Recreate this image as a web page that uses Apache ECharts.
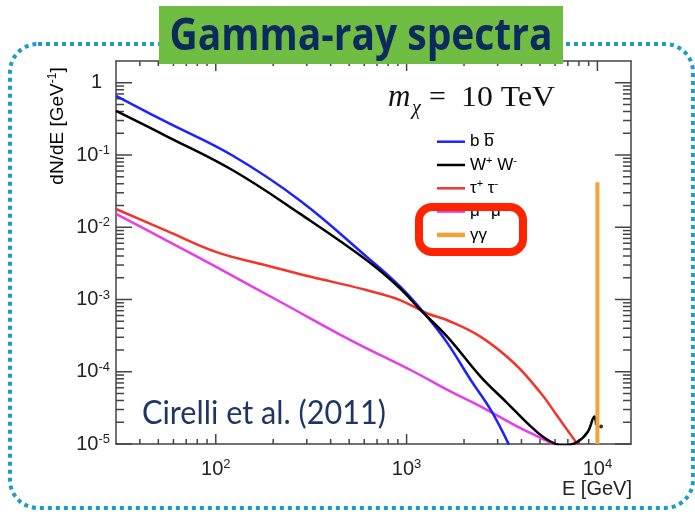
<!DOCTYPE html>
<html>
<head>
<meta charset="utf-8">
<script src="https://cdn.jsdelivr.net/npm/echarts@6/dist/echarts.min.js"></script>
<style>
  html, body { margin: 0; padding: 0; background: #fff; }
  #chart { width: 695px; height: 512px; }
</style>
</head>
<body>
<div id="chart"></div>
<script>
// Photon spectra dN/dE for a 10 TeV dark-matter particle, per annihilation channel.
const xTicks = [100, 1000, 10000];
const yTicks = [1e-5, 1e-4, 1e-3, 1e-2, 1e-1, 1];

const bbE = [30, 55, 123, 277, 621, 929, 1284, 1637, 2169, 2761, 3436];
const bbY = [0.656, 0.287, 0.0975, 0.0233, 0.00386, 0.00149, 5.74e-4, 2.49e-4, 7.69e-5, 2.96e-5, 9.8e-6];

const wwE = [30, 55, 124, 277, 621, 929, 1185, 1637, 2449, 3381, 4486, 5488, 6712, 7893, 8907, 9648, 9845];
const wwY = [0.407, 0.183, 0.0605, 0.0153, 0.00347, 1.41e-3, 7.1e-4, 3.04e-4, 8.5e-5, 3.66e-5, 1.74e-5, 1.14e-5, 9.5e-6, 1.08e-5, 1.48e-5, 2.4e-5, 1.84e-5];
const wwTailE = [10450];
const wwTailY = [1.75e-5];

const ttE = [30, 55, 101, 185, 277, 415, 621, 929, 1284, 1637, 2449, 3664, 5058, 6194, 7893];
const ttY = [0.0179, 0.009, 0.00452, 0.00296, 0.00223, 0.00174, 0.00134, 9.75e-4, 6.4e-4, 5.16e-4, 3.04e-4, 1.31e-4, 5.04e-5, 2.4e-5, 9.8e-6];

const mmE = [30, 55, 101, 226, 508, 1092, 1637, 2449, 3664, 4486, 5940];
const mmY = [0.0153, 0.0066, 0.0028, 8.8e-4, 2.74e-4, 1.0e-4, 5.6e-5, 3.29e-5, 1.84e-5, 1.41e-5, 9.8e-6];

const ggE = [10000, 10000];
const ggY = [1e-5, 0.0418];

const channelNames = ['b b\u0305', 'W⁺ W⁻', 'τ⁺ τ⁻', 'μ⁺ μ⁻', 'γγ'];
const channelColors = ['#1c22ff', '#000000', '#f2352a', '#e43fe6', '#f3a23c'];

const X_MIN = 30, X_MAX = 15000, Y_MIN = 1e-5, Y_MAX = 2;

// minor tick positions (2..9 times each power of ten) inside the axis range
function minorTicks(lo, hi) {
  const out = [];
  for (let d = Math.floor(Math.log10(lo)); d <= Math.ceil(Math.log10(hi)); d++) {
    for (let k = 2; k <= 9; k++) {
      const v = k * Math.pow(10, d);
      if (v > lo * 1.0001 && v < hi * 0.9999) out.push(v);
    }
  }
  return out;
}
const xMinor = minorTicks(X_MIN, X_MAX);
const yMinor = minorTicks(Y_MIN, Y_MAX);

const pairs = (xs, ys) => xs.map((x, i) => [x, ys[i]]);

const LABEL_FONT = '"Liberation Sans", Arial, Helvetica, sans-serif';
const SERIF = '"Liberation Serif", "Times New Roman", serif';
const INK = '#222';
const FRAME = '#444';

function powLabel(v) {
  const e = Math.round(Math.log10(v));
  return e === 0 ? '{one|1}' : '{b|10}{s|' + e + '}';
}
const powRich = {
  b: { fontSize: 20, lineHeight: 22, fontFamily: LABEL_FONT, color: INK },
  s: { fontSize: 13, lineHeight: 13, verticalAlign: 'top', fontFamily: LABEL_FONT, color: INK },
  one: { fontSize: 20, lineHeight: 22, fontFamily: LABEL_FONT, color: INK, padding: [0, 8, 0, 0] }
};

function frameAxis(position, isX, opts) {
  return {
    type: 'log',
    min: isX ? X_MIN : Y_MIN,
    max: isX ? X_MAX : Y_MAX,
    position: position,
    axisLine: { show: true, lineStyle: { color: FRAME, width: 1.5 } },
    axisTick: { show: false },
    axisLabel: opts.labels
      ? { show: true, customValues: opts.ticks, formatter: powLabel, rich: powRich, margin: opts.margin }
      : { show: false },
    splitLine: { show: false }
  };
}

// tick marks on all four sides of the frame, placed through the axis scales
// kind: 0 = x major, 1 = x minor, 2 = y major, 3 = y minor
const tickData = [].concat(
  xTicks.map(v => [v, Y_MIN, 0]),
  xMinor.map(v => [v, Y_MIN, 1]),
  yTicks.map(v => [X_MIN, v, 2]),
  yMinor.map(v => [X_MIN, v, 3])
);
const TICK_LEN = [10, 5, 16, 8];
function renderTick(params, api) {
  const kind = api.value(2);
  const len = TICK_LEN[kind];
  const st = { stroke: FRAME, lineWidth: 1.5 };
  if (kind < 2) {
    const v = api.value(0);
    const p0 = api.coord([v, Y_MIN]);
    const p1 = api.coord([v, Y_MAX]);
    return { type: 'group', children: [
      { type: 'line', shape: { x1: p0[0], y1: p0[1], x2: p0[0], y2: p0[1] - len }, style: st },
      { type: 'line', shape: { x1: p1[0], y1: p1[1], x2: p1[0], y2: p1[1] + len }, style: st }
    ] };
  }
  const v = api.value(1);
  const p0 = api.coord([X_MIN, v]);
  const p1 = api.coord([X_MAX, v]);
  return { type: 'group', children: [
    { type: 'line', shape: { x1: p0[0], y1: p0[1], x2: p0[0] + len, y2: p0[1] }, style: st },
    { type: 'line', shape: { x1: p1[0], y1: p1[1], x2: p1[0] - len, y2: p1[1] }, style: st }
  ] };
}

function curve(name, xs, ys, color, width) {
  return {
    name: name, type: 'line', xAxisIndex: 0, yAxisIndex: 0,
    data: pairs(xs, ys), showSymbol: false, smooth: 0.4, clip: true,
    lineStyle: { color: color, width: width }, itemStyle: { color: color },
    animation: false, z: 3
  };
}

// horizontal squeeze so a text run spans a given width
function fitScale(text, font, target) {
  const ctx = document.createElement('canvas').getContext('2d');
  ctx.font = font;
  return target / ctx.measureText(text).width;
}

const titleText = 'Gamma-ray spectra';
const titleFont = 'bold 44px "Open Sans"';
const citeText = 'Cirelli et al. (2011)';
const citeFont = '32px Lato';
const massFont = '30px ' + SERIF;

// legend entries drawn inside the frame
const legendTop = 141.7, legendStep = 23.3;
const legendRich = {
  t: { fontSize: 17, lineHeight: 20, fontFamily: LABEL_FONT, color: INK },
  s: { fontSize: 11, lineHeight: 11, verticalAlign: 'top', fontFamily: LABEL_FONT, color: INK }
};
const legendLabels = [
  '{t|b b\u0305}',
  '{t|W}{s|+}{t| W}{s|-}',
  '{t|τ}{s|+}{t| τ}{s|-}',
  '{t|μ}{s|+}{t| μ}{s|-}',
  '{t|γγ}'
];
const legendGraphics = [];
channelNames.forEach((n, i) => {
  const y = legendTop + i * legendStep;
  legendGraphics.push({
    type: 'line', z: 50,
    shape: { x1: 437, y1: y, x2: 465, y2: y },
    style: { stroke: channelColors[i], lineWidth: i === 4 ? 4.5 : 2.5 }
  });
  legendGraphics.push({
    type: 'text', z: 50, x: 470, y: y,
    style: { text: legendLabels[i], rich: legendRich, align: 'left', verticalAlign: 'middle' }
  });
});

const chart = echarts.init(document.getElementById('chart'));
chart.setOption({
  animation: false,
  grid: { left: 116, right: 64, top: 61, bottom: 68 },
  xAxis: [
    frameAxis('bottom', true, { ticks: xTicks, labels: true, margin: 14 }),
    frameAxis('top', true, {})
  ],
  yAxis: [
    frameAxis('left', false, { ticks: yTicks, labels: true, margin: 6 }),
    frameAxis('right', false, {})
  ],
  series: [
    {
      name: 'frame ticks', type: 'custom', xAxisIndex: 0, yAxisIndex: 0,
      data: tickData, renderItem: renderTick, clip: false, silent: true,
      animation: false, z: 2
    },
    curve(channelNames[3], mmE, mmY, channelColors[3], 2.5),
    curve(channelNames[2], ttE, ttY, channelColors[2], 2.5),
    curve(channelNames[0], bbE, bbY, channelColors[0], 2.5),
    curve(channelNames[1], wwE, wwY, channelColors[1], 2.5),
    {
      name: channelNames[1] + ' tail', type: 'scatter', data: pairs(wwTailE, wwTailY),
      symbolSize: 4, itemStyle: { color: '#000' }, z: 3, animation: false
    },
    Object.assign(curve(channelNames[4], ggE, ggY, channelColors[4], 4), { smooth: false, z: 4 })
  ],
  graphic: [
    // dotted rounded frame around the whole panel
    {
      type: 'rect', z: 1,
      shape: { x: 10, y: 44, width: 683, height: 464, r: 28 },
      style: { fill: 'none', stroke: '#1b9ccb', lineWidth: 4, lineDash: [4, 4] }
    },
    // title banner
    {
      type: 'rect', z: 60,
      shape: { x: 159, y: 6, width: 404, height: 58 },
      style: { fill: '#70bd43' }
    },
    {
      type: 'text', z: 61, x: 361, y: 37,
      scaleX: fitScale(titleText, titleFont, 383),
      style: { text: titleText, font: titleFont, fill: '#0c2b5c', align: 'center', verticalAlign: 'middle' }
    },
    // dark-matter mass annotation
    {
      type: 'text', z: 50, x: 388, y: 98,
      style: { text: 'm', font: 'italic 31px ' + SERIF, fill: '#111', align: 'left', verticalAlign: 'middle' }
    },
    {
      type: 'text', z: 50, x: 412, y: 109,
      style: { text: 'χ', font: 'italic 20px ' + SERIF, fill: '#111', align: 'left', verticalAlign: 'middle' }
    },
    {
      type: 'text', z: 50, x: 429, y: 98,
      style: { text: '=', font: massFont, fill: '#111', align: 'left', verticalAlign: 'middle' }
    },
    {
      type: 'text', z: 50, x: 461, y: 98,
      scaleX: fitScale('10 TeV', massFont, 94),
      style: { text: '10 TeV', font: massFont, fill: '#111', align: 'left', verticalAlign: 'middle' }
    },
    ...legendGraphics,
    // highlight box around the γγ line entry
    {
      type: 'rect', z: 55,
      shape: { x: 419, y: 207, width: 104, height: 45, r: 13 },
      style: { fill: 'none', stroke: '#ff2400', lineWidth: 8 }
    },
    // citation
    {
      type: 'text', z: 50, x: 142, y: 414,
      scaleX: fitScale(citeText, citeFont, 244),
      style: { text: citeText, font: citeFont, fill: '#1e3566', align: 'left', verticalAlign: 'middle' }
    },
    // axis titles
    {
      type: 'text', z: 50, x: 58, y: 126, rotation: Math.PI / 2,
      style: {
        text: '{t|dN/dE [GeV}{s|-1}{t|]}', align: 'center', verticalAlign: 'middle',
        rich: {
          t: { fontSize: 19, lineHeight: 22, fontFamily: LABEL_FONT, color: INK },
          s: { fontSize: 12, lineHeight: 12, verticalAlign: 'top', fontFamily: LABEL_FONT, color: INK }
        }
      }
    },
    {
      type: 'text', z: 50, x: 632, y: 489,
      style: { text: 'E [GeV]', font: '20px ' + LABEL_FONT, fill: INK, align: 'right', verticalAlign: 'middle' }
    }
  ]
});
</script>
</body>
</html>
